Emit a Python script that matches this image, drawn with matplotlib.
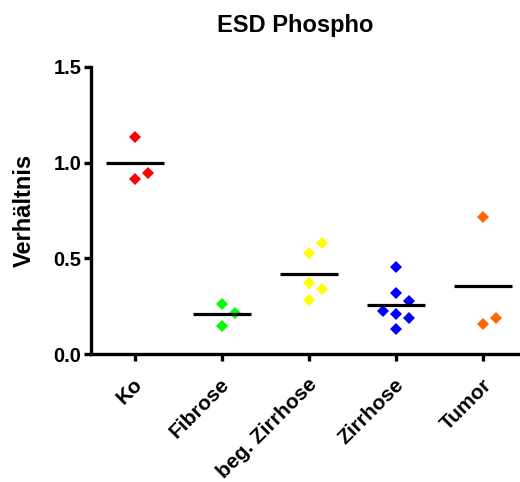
import matplotlib
matplotlib.use("Agg")
import matplotlib.pyplot as plt
import matplotlib.transforms as mtransforms
import numpy as np

plt.rcParams['font.family'] = ['Liberation Sans', 'DejaVu Sans']
plt.rcParams['font.weight'] = 'bold'

title = "ESD Phospho"
ylabel = "Verhältnis"
categories = ["Ko", "Fibrose", "beg. Zirrhose", "Zirrhose", "Tumor"]
colors = ["#FF0000", "#00FF00", "#FFFF00", "#0000FF", "#FF6600"]

ko = [1.134, 0.916, 0.948]
fibrose = [0.260, 0.216, 0.146]
beg_zirrhose = [0.579, 0.528, 0.369, 0.340, 0.280]
zirrhose = [0.453, 0.317, 0.279, 0.223, 0.207, 0.190, 0.132]
tumor = [0.714, 0.159, 0.188]
groups = [ko, fibrose, beg_zirrhose, zirrhose, tumor]

# scatter column offsets (in column steps) for overlapping points
ko_cols = [0, 0, 1]
fibrose_cols = [0, 1, 0]
beg_cols = [1, 0, 0, 1, 0]
zirrhose_cols = [0, 0, 1, -1, 0, 1, 0]
tumor_cols = [0, 0, 1]
cols = [ko_cols, fibrose_cols, beg_cols, zirrhose_cols, tumor_cols]

yticks = [0.0, 0.5, 1.0, 1.5]
ytick_labels = ["0.0", "0.5", "1.0", "1.5"]

W, H = 520, 482
fig = plt.figure(figsize=(W / 100, H / 100), dpi=100)
ax = fig.add_axes([91 / W, 1 - 354 / H, 1 - 91 / W, (354 - 67) / H])

step = 0.15
for i, (vals, cs, c) in enumerate(zip(groups, cols, colors)):
    xs = [i + k * step for k in cs]
    ax.plot(xs, vals, linestyle='none', marker='D', markersize=6.0,
            markerfacecolor=c, markeredgewidth=0, clip_on=False, zorder=3)
    m = np.mean(vals)
    ax.plot([i - 0.333, i + 0.333], [m, m], color='black', lw=2.3,
            solid_capstyle='butt', zorder=4)

ax.set_xlim(-0.5, 4.42)
ax.set_ylim(0, 1.5)
ax.set_yticks(yticks)
ax.set_yticklabels(ytick_labels)
ax.set_xticks(range(len(categories)))
ax.set_xticklabels(categories, rotation=45, ha='right', va='center',
                   rotation_mode='anchor')

for s in ['top', 'right']:
    ax.spines[s].set_visible(False)
for s in ['left', 'bottom']:
    ax.spines[s].set_linewidth(2.4)
ax.tick_params(axis='both', direction='out', length=5, width=2.4)
ax.tick_params(axis='y', pad=2, labelsize=14.5)
ax.tick_params(axis='x', pad=15, labelsize=15)
offset = mtransforms.ScaledTranslation(5 / 100, 0, fig.dpi_scale_trans)
for lab in ax.get_xticklabels():
    lab.set_transform(lab.get_transform() + offset)
for lab in ax.get_xticklabels() + ax.get_yticklabels():
    lab.set_fontweight('bold')

fig.text(295 / W, 1 - 32 / H, title, ha='center', va='baseline',
         fontsize=17, fontweight='bold')
fig.text(24 / W, 1 - 210 / H, ylabel, ha='center', va='center',
         rotation=90, fontsize=17, fontweight='bold')

fig.savefig("out.png", dpi=100)
